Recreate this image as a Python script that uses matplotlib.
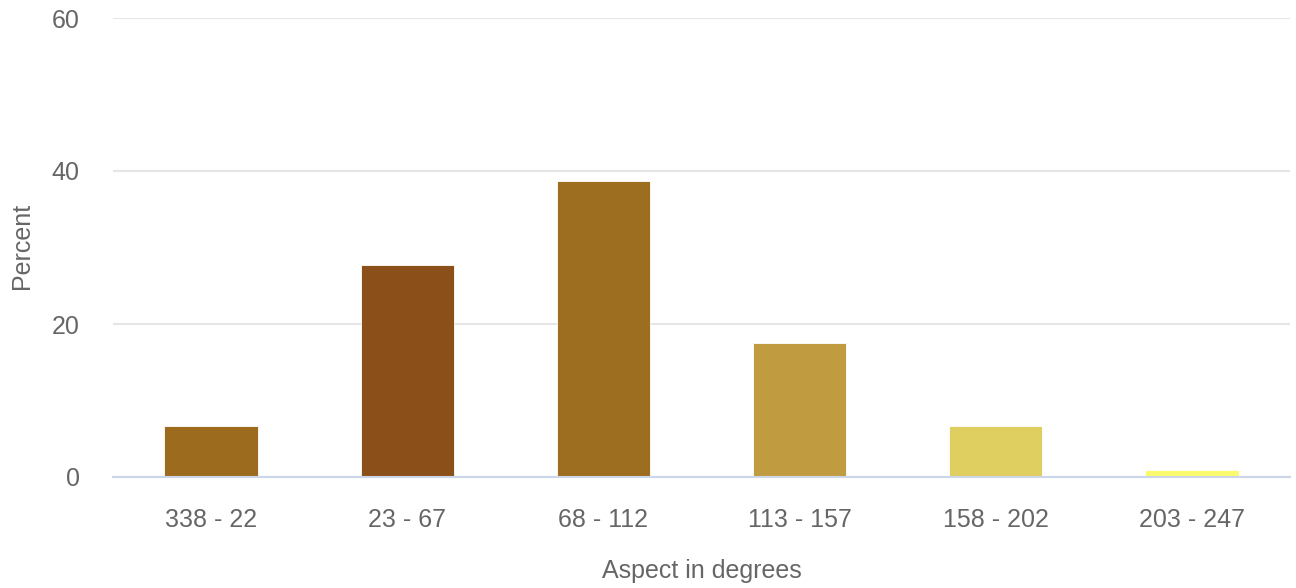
import matplotlib
matplotlib.use("Agg")
import matplotlib.pyplot as plt

categories = ["338 - 22", "23 - 67", "68 - 112", "113 - 157", "158 - 202", "203 - 247"]
percent = [6.7, 27.7, 38.7, 17.5, 6.7, 0.9]
colors = ["#9C6B1E", "#8B501A", "#9E6E20", "#C19B40", "#DFCE60", "#FAFA6E"]
yticks = [0, 20, 40, 60]

plt.rcParams['font.family'] = ['Liberation Sans', 'DejaVu Sans']

fig = plt.figure(figsize=(12.96, 5.88), dpi=100)
ax = fig.add_axes([113/1296, 1 - 477/588, (1290-113)/1296, (477-18)/588])

x = list(range(len(categories)))
ax.bar(x, percent, width=0.475, color=colors, edgecolor="#FFFFFF", linewidth=0.6, zorder=3)

ax.set_xlim(-0.5, len(categories) - 0.5)
ax.set_ylim(0, 60)
ax.set_yticks(yticks)
ax.set_xticks(x)
ax.set_xticklabels(categories)

for s in ["top", "right", "left"]:
    ax.spines[s].set_visible(False)
ax.spines["bottom"].set_color("#CCD6EB")
ax.spines["bottom"].set_linewidth(1.5)
ax.spines["bottom"].set_zorder(4)

ax.grid(axis="y", color="#E6E6E6", linewidth=1.5, zorder=0)
ax.tick_params(axis="both", length=0, labelcolor="#666666", labelsize=18)
ax.tick_params(axis="x", pad=22)
ax.tick_params(axis="y", pad=24)

ax.set_xlabel("Aspect in degrees", color="#666666", fontsize=18, labelpad=20)
fig.text(22/1296, 1 - 246/588, "Percent", rotation=90, ha="center", va="center",
         color="#666666", fontsize=18)

fig.savefig("out.png", dpi=100, facecolor="white")
